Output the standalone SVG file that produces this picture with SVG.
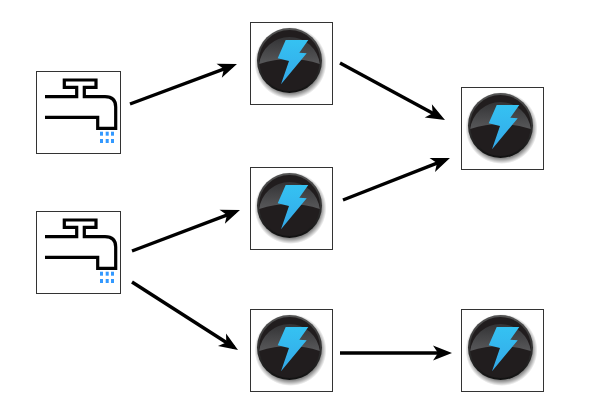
<svg xmlns="http://www.w3.org/2000/svg" width="589" height="407" viewBox="0 0 589 407">
<style>
.box{fill:#fff;stroke:#333;stroke-width:1}
.f{fill:none;stroke:#000;stroke-width:3.2}
.d{fill:#3399ff}
.c{fill:none;stroke:#000;stroke-width:3.4;marker-end:url(#a)}
</style>
<defs>
<marker id="a" markerUnits="userSpaceOnUse" markerWidth="20" markerHeight="16" refX="12" refY="7" orient="auto" overflow="visible">
<path d="M-2 -.5L17 7L-2 14.5L3 7Z" fill="#000"/>
</marker>
<linearGradient id="rim" x1="0" y1="0" x2="0" y2="1"><stop offset="0" stop-color="#555"/><stop offset="1" stop-color="#111"/></linearGradient>
<linearGradient id="top" x1="0" y1="0" x2="0" y2="1"><stop offset="0" stop-color="#333335"/><stop offset="1" stop-color="#58585a"/></linearGradient>
<linearGradient id="bolt" x1="0" y1="0" x2="0" y2="1"><stop offset="0" stop-color="#35c2f2"/><stop offset="1" stop-color="#33a8e8"/></linearGradient>
<radialGradient id="sh"><stop offset=".85" stop-color="#000" stop-opacity=".45"/><stop offset="1" stop-color="#000" stop-opacity="0"/></radialGradient>
<symbol id="tap" width="86" height="83" overflow="visible">
<rect class="box" x=".5" y=".5" width="84" height="82"/>
<path class="f" d="M9 25.7H40.7V16.3H28.3V9H60V16.3H48.3V25.7H69Q79.7 25.7 79.7 36V57.3H61.7V46.3H9"/>
<g class="d"><rect x="64" y="60.7" width="3" height="4"/><rect x="69.7" y="60.7" width="3" height="4"/><rect x="75" y="60.7" width="3" height="4"/><rect x="64" y="68" width="3" height="4"/><rect x="69.7" y="68" width="3" height="4"/><rect x="75" y="68" width="3" height="4"/></g>
</symbol>
<symbol id="bol" width="84" height="84" overflow="visible">
<rect class="box" x=".5" y=".5" width="82" height="82"/>
<circle cx="40.5" cy="41" r="36" fill="url(#sh)"/>
<circle cx="39.5" cy="38.5" r="32.5" fill="url(#rim)"/>
<circle cx="39.5" cy="38.5" r="30.5" fill="#211d1e"/>
<path d="M9.2 42A30.5 30.5 0 0 1 69.8 42Q40 32 9.2 42Z" fill="url(#top)"/>
<path d="M35.7 18H58.3L49.3 30.7L56.7 31.3L31 62.3L39 39L27.7 36.3Z" fill="url(#bolt)"/>
</symbol>
</defs>
<rect width="589" height="407" fill="#fff"/>
<g id="connectors">
<path class="c" d="M130 104L232.3 65.8"/>
<path class="c" d="M340 63L440.6 117.6"/>
<path class="c" d="M343 200L445.3 159.8"/>
<path class="c" d="M132 251L235.3 211.8"/>
<path class="c" d="M132 282L233.8 347.3"/>
<path class="c" d="M340 353H447"/>
</g>
<g id="tap1"><use href="#tap" x="36" y="71"/></g>
<g id="tap2"><use href="#tap" x="36" y="211"/></g>
<g id="bolt1"><use href="#bol" x="250" y="22"/></g>
<g id="bolt2"><use href="#bol" x="250" y="167"/></g>
<g id="bolt3"><use href="#bol" x="250" y="309"/></g>
<g id="bolt4"><use href="#bol" x="461" y="87"/></g>
<g id="bolt5"><use href="#bol" x="461" y="309"/></g>
</svg>
